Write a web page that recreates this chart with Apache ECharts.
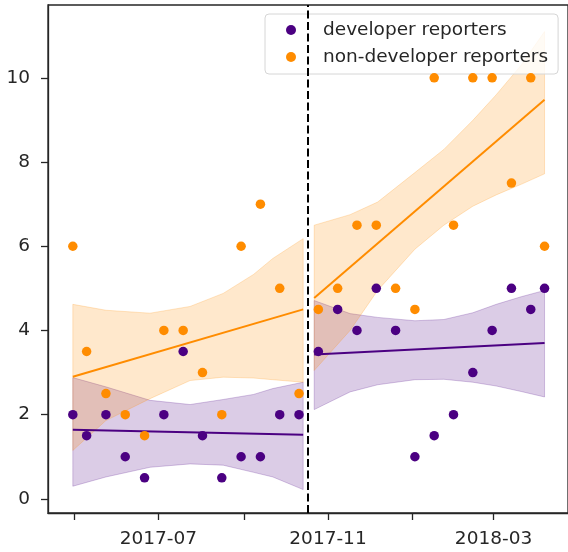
<!DOCTYPE html>
<html>
<head>
<meta charset="utf-8">
<script src="https://cdn.jsdelivr.net/npm/echarts@6/dist/echarts.min.js"></script>
<style>
html,body{margin:0;padding:0;background:#fff;}
#chart{width:568px;height:552px;}
</style>
</head>
<body>
<div id="chart"></div>
<script>
// ---- data ----
const leftDates = ['2017-04-30','2017-05-10','2017-05-24','2017-06-07','2017-06-21','2017-07-05','2017-07-19','2017-08-02','2017-08-16','2017-08-30','2017-09-13','2017-09-27','2017-10-11'];
const rightDates = ['2017-10-25','2017-11-08','2017-11-22','2017-12-06','2017-12-20','2018-01-03','2018-01-17','2018-01-31','2018-02-14','2018-02-28','2018-03-14','2018-03-28','2018-04-07'];

const devLeft = [2, 1.5, 2, 1, 0.5, 2, 3.5, 1.5, 0.5, 1, 1, 2, 2];
const devRight = [3.5, 4.5, 4, 5, 4, 1, 1.5, 2, 3, 4, 5, 4.5, 5];
const nonDevLeft = [6, 3.5, 2.5, 2, 1.5, 4, 4, 3, 2, 6, 7, 5, 2.5];
const nonDevRight = [4.5, 5, 6.5, 6.5, 5, 4.5, 10, 6.5, 10, 10, 7.5, 10, 6];

// regression lines (endpoints)
const leftLineDates = ['2017-04-30', '2017-10-14'];
const rightLineDates = ['2017-10-22', '2018-04-07'];
const devLeftLine = [1.64, 1.52];
const devRightLine = [3.43, 3.70];
const nonDevLeftLine = [2.90, 4.50];
const nonDevRightLine = [4.77, 9.48];

// confidence bands
const leftBandDates = ['2017-04-30','2017-05-24','2017-06-25','2017-07-24','2017-08-17','2017-09-08','2017-09-22','2017-10-14'];
const devLeftLower = [0.30, 0.52, 0.75, 0.83, 0.80, 0.63, 0.52, 0.22];
const devLeftUpper = [2.88, 2.66, 2.34, 2.24, 2.36, 2.48, 2.62, 2.77];
const nonDevLeftLower = [1.15, 1.86, 2.38, 2.81, 2.89, 2.87, 2.83, 2.77];
const nonDevLeftUpper = [4.62, 4.48, 4.41, 4.57, 4.88, 5.33, 5.71, 6.18];

const rightBandDates = ['2017-10-22','2017-11-17','2017-12-07','2018-01-03','2018-01-24','2018-02-14','2018-03-03','2018-03-21','2018-04-07'];
const devRightLower = [2.12, 2.54, 2.71, 2.83, 2.84, 2.77, 2.68, 2.55, 2.42];
const devRightUpper = [4.71, 4.40, 4.31, 4.23, 4.26, 4.42, 4.62, 4.80, 4.95];
const nonDevRightLower = [3.05, 4.00, 4.95, 5.93, 6.50, 6.95, 7.22, 7.47, 7.72];
const nonDevRightUpper = [6.50, 6.75, 7.05, 7.75, 8.30, 8.99, 9.60, 10.30, 11.10];

const splitDate = '2017-10-17 12:00';
const xTickDates = ['2017-05-01','2017-07-01','2017-09-01','2017-11-01','2018-01-01','2018-03-01'];
const xTickLabels = ['2017-07','2017-11','2018-03'];
const yTicks = [0, 2, 4, 6, 8, 10];
const seriesNames = ['developer reporters', 'non-developer reporters'];

// ---- build chart ----
const P = s => echarts.time.parse(s).getTime();
const DEV = '#4B0082', NON = '#FF8C00';
const FONT = 'DejaVu Sans';
const TXT = '#262626';

const pairs = (dates, vals) => dates.map((d, i) => [P(d), vals[i]]);
const band = (dates, lo, hi) => dates.map((d, i) => [P(d), lo[i], hi[i]]);

function bandSeries(data, rgb) {
  return {
    type: 'custom',
    data: data,
    encode: { x: 0, y: [1, 2] },
    silent: true,
    z: 1,
    renderItem: function (params, api) {
      if (params.dataIndexInside !== 0) return null;
      const n = params.dataInsideLength;
      const top = [], bot = [];
      for (let i = 0; i < n; i++) {
        const x = api.value(0, i);
        top.push(api.coord([x, api.value(2, i)]));
        bot.push(api.coord([x, api.value(1, i)]));
      }
      return {
        type: 'polygon',
        shape: { points: top.concat(bot.reverse()) },
        style: { fill: 'rgba(' + rgb + ',0.2)', stroke: 'rgba(' + rgb + ',0.22)', lineWidth: 1 }
      };
    }
  };
}

function lineSeries(data, color) {
  return {
    type: 'line', data: data, symbol: 'none', silent: true, z: 3,
    lineStyle: { color: color, width: 2 }
  };
}

const labelTicks = xTickLabels.map(l => P(l + '-01'));
const labelMap = {};
xTickLabels.forEach((l, i) => { labelMap[labelTicks[i]] = l; });

const chart = echarts.init(document.getElementById('chart'), null, { renderer: 'canvas' });
chart.setOption({
  animation: false,
  backgroundColor: '#fff',
  textStyle: { fontFamily: FONT },
  grid: {
    left: 48, top: 5, width: 521.4, height: 508,
    show: true, borderColor: TXT, borderWidth: 1.3, backgroundColor: 'transparent'
  },
  legend: {
    data: seriesNames,
    orient: 'vertical',
    left: 265, top: 14,
    icon: 'circle',
    itemWidth: 10, itemHeight: 10, itemGap: 5,
    padding: [5, 10, 6, 21],
    backgroundColor: 'rgba(255,255,255,0.8)',
    borderColor: '#d6d6d6', borderWidth: 1, borderRadius: 4,
    textStyle: { fontFamily: FONT, fontSize: 18.5, color: TXT, lineHeight: 22, padding: [0, 0, 0, 22] }
  },
  xAxis: {
    type: 'value',
    min: P('2017-04-12'), max: P('2018-04-24'),
    axisLine: { show: true, onZero: false, lineStyle: { color: TXT, width: 1.3 } },
    axisTick: { show: true, length: 7, lineStyle: { color: TXT, width: 1.3 }, customValues: xTickDates.map(P) },
    axisLabel: {
      customValues: labelTicks,
      formatter: function (v) { return labelMap[v] !== undefined ? labelMap[v] : ''; },
      fontFamily: FONT, fontSize: 18.5, color: TXT, margin: 17
    },
    splitLine: { show: false }
  },
  yAxis: {
    type: 'value',
    min: -0.336, max: 11.73,
    axisLine: { show: true, onZero: false, lineStyle: { color: TXT, width: 1.3 } },
    axisTick: { show: true, length: 7, lineStyle: { color: TXT, width: 1.3 }, customValues: yTicks },
    axisLabel: { customValues: yTicks, fontFamily: FONT, fontSize: 18.5, color: TXT, margin: 18 },
    splitLine: { show: false }
  },
  series: [
    bandSeries(band(leftBandDates, devLeftLower, devLeftUpper), '75,0,130'),
    bandSeries(band(rightBandDates, devRightLower, devRightUpper), '75,0,130'),
    bandSeries(band(leftBandDates, nonDevLeftLower, nonDevLeftUpper), '255,140,0'),
    bandSeries(band(rightBandDates, nonDevRightLower, nonDevRightUpper), '255,140,0'),
    lineSeries(pairs(leftLineDates, devLeftLine), DEV),
    lineSeries(pairs(rightLineDates, devRightLine), DEV),
    lineSeries(pairs(leftLineDates, nonDevLeftLine), NON),
    lineSeries(pairs(rightLineDates, nonDevRightLine), NON),
    {
      name: seriesNames[0], type: 'scatter', z: 4,
      data: pairs(leftDates, devLeft).concat(pairs(rightDates, devRight)),
      symbolSize: 9.5, itemStyle: { color: DEV, opacity: 1 },
      markLine: {
        silent: true, symbol: 'none', label: { show: false },
        lineStyle: { color: '#000', width: 2, type: [8, 3.5] },
        data: [{ xAxis: P(splitDate) }]
      }
    },
    {
      name: seriesNames[1], type: 'scatter', z: 4,
      data: pairs(leftDates, nonDevLeft).concat(pairs(rightDates, nonDevRight)),
      symbolSize: 9.5, itemStyle: { color: NON, opacity: 1 }
    }
  ]
});
</script>
</body>
</html>
